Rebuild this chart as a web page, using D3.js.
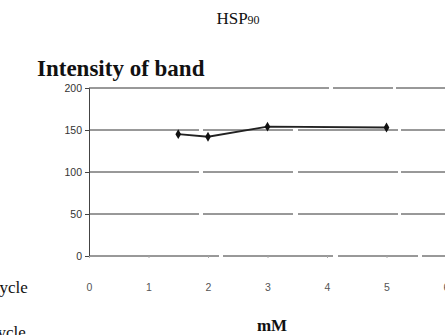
<!DOCTYPE html>
<html><head><meta charset="utf-8">
<script src="https://cdn.jsdelivr.net/npm/d3@7"></script>
<style>body{margin:0;background:#fff;} svg{display:block;}</style>
</head><body>
<svg id="c" width="445" height="335"></svg>
<script>
const xValues = [1.5, 2, 3, 5];
const yValues = [145, 142, 154, 153];
const yTicks = [0, 50, 100, 150, 200];
const xTicks = [0, 1, 2, 3, 4, 5, 6];

const svg = d3.select("#c");
const x = d3.scaleLinear().domain([0, 6]).range([89, 446]);
const y = d3.scaleLinear().domain([0, 200]).range([256, 88]);

// gridlines
svg.append("g").selectAll("line").data(yTicks.filter(d => d > 0)).join("line")
  .attr("x1", x(0)).attr("x2", 445).attr("y1", d => y(d)).attr("y2", d => y(d))
  .attr("stroke", "#333").attr("stroke-width", 1)
  .attr("stroke-dasharray", d => d === 200 ? "240,4,60,3" : "110,4,90,5,100,3");

// x axis baseline
svg.append("line").attr("x1", x(0)).attr("x2", 445).attr("y1", y(0)).attr("y2", y(0))
  .attr("stroke", "#333").attr("stroke-dasharray", "130,4,110,5,80,4");

// y axis
const yAxis = d3.axisLeft(y).tickValues(yTicks).tickSize(4).tickPadding(3);
const gy = svg.append("g").attr("transform", `translate(${x(0)},0)`).call(yAxis);
gy.select(".domain").attr("stroke", "#444");
gy.selectAll(".tick line").attr("stroke", "#444");
gy.selectAll("text").attr("font-family", "Liberation Sans, Arial, sans-serif")
  .attr("font-size", 10.5).attr("fill", "#333");

// x axis ticks and labels
const xAxis = d3.axisBottom(x).tickValues(xTicks).tickFormat(d3.format("d")).tickSize(2).tickPadding(26);
const gx = svg.append("g").attr("transform", `translate(0,${y(0)})`).call(xAxis);
gx.select(".domain").remove();
gx.selectAll(".tick line").attr("stroke", "#aaa");
gx.selectAll("text").attr("font-family", "Liberation Sans, Arial, sans-serif")
  .attr("font-size", 10.5).attr("fill", "#555");

// data line
const pts = xValues.map((v, i) => [v, yValues[i]]);
svg.append("path").datum(pts)
  .attr("d", d3.line().x(d => x(d[0])).y(d => y(d[1])))
  .attr("fill", "none").attr("stroke", "#222").attr("stroke-width", 1.8);
svg.append("g").selectAll("path").data(pts).join("path")
  .attr("transform", d => `translate(${x(d[0])},${y(d[1])})`)
  .attr("d", d3.symbol().type(d3.symbolDiamond).size(28))
  .attr("fill", "#111");

// titles
const t = svg.append("text").attr("x", 238).attr("y", 24).attr("text-anchor", "middle")
  .attr("font-family", "Liberation Serif, Times New Roman, serif").attr("font-size", 17).attr("fill", "#111");
t.append("tspan").text("HSP");
t.append("tspan").attr("font-size", 12).text("90");

svg.append("text").attr("x", 37).attr("y", 76)
  .attr("font-family", "Liberation Serif, Times New Roman, serif").attr("font-weight", "bold")
  .attr("font-size", 23).attr("fill", "#111").text("Intensity of band");

svg.append("text").attr("x", 272).attr("y", 331).attr("text-anchor", "middle")
  .attr("font-family", "Liberation Serif, Times New Roman, serif").attr("font-weight", "bold")
  .attr("font-size", 17).attr("fill", "#111").text("mM");

svg.append("text").attr("x", -8).attr("y", 293)
  .attr("font-family", "Liberation Serif, Times New Roman, serif")
  .attr("font-size", 17).attr("fill", "#111").text("cycle");
svg.append("text").attr("x", -10).attr("y", 338)
  .attr("font-family", "Liberation Serif, Times New Roman, serif")
  .attr("font-size", 17).attr("fill", "#111").text("cycle");
</script>
</body></html>
